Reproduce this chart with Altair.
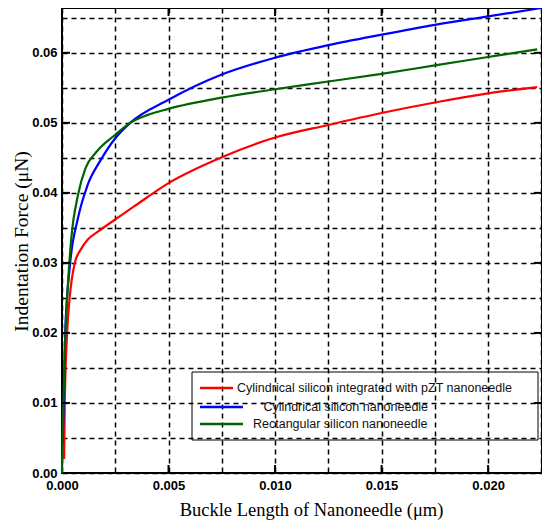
import altair as alt
import pandas as pd

series_names = [
    "Cylindrical silicon integrated with pZT nanoneedle",
    "Cylindrical silicon nanoneedle",
    "Rectangular silicon nanoneedle",
]
legend_labels = [
    "Cylindrical silicon integrated with pZT nanoneedle",
    "'Cylindrical silicon nanoneedle",
    "Rectangular silicon nanoneedle",
]
colors = ["#ff0000", "#0000ff", "#006400"]

# Buckle length (um) and indentation force (uN)
x_red = [0.0001, 0.00013, 0.00024, 0.00036, 0.0006, 0.0009, 0.0012, 0.0017, 0.0025,
         0.0034, 0.005, 0.0075, 0.010, 0.0125, 0.015, 0.0175, 0.020, 0.0223]
y_red = [0.002, 0.010, 0.020, 0.025, 0.030, 0.032, 0.0333, 0.0345, 0.0362,
         0.0381, 0.0414, 0.0451, 0.0479, 0.0497, 0.0514, 0.0529, 0.0542, 0.0551]

x_blue = [0.00003, 0.0001, 0.00015, 0.00036, 0.00075, 0.0012, 0.0018, 0.0025, 0.0032,
          0.005, 0.0075, 0.010, 0.0125, 0.015, 0.0175, 0.020, 0.0225]
y_blue = [0.004, 0.012, 0.020, 0.0293, 0.0364, 0.0411, 0.0446, 0.0478, 0.0500,
          0.0533, 0.0569, 0.0593, 0.0611, 0.0626, 0.0640, 0.0652, 0.0664]

x_green = [0.0, 0.00005, 0.00013, 0.00028, 0.00044, 0.00075, 0.0011, 0.0016, 0.0025,
           0.0032, 0.004, 0.005, 0.0075, 0.010, 0.0125, 0.015, 0.0175, 0.020, 0.0223]
y_green = [0.0, 0.008, 0.0174, 0.027, 0.0336, 0.0397, 0.0435, 0.0458, 0.0483,
           0.0500, 0.0511, 0.0520, 0.0536, 0.0548, 0.0559, 0.0570, 0.0582, 0.0594, 0.0605]

x_grid = [0.0, 0.0025, 0.005, 0.0075, 0.010, 0.0125, 0.015, 0.0175, 0.020, 0.0225]
y_grid = [0.0, 0.005, 0.010, 0.015, 0.020, 0.025, 0.030, 0.035, 0.040, 0.045,
          0.050, 0.055, 0.060, 0.065]
x_major = [0.005, 0.010, 0.015, 0.020]
y_major = [0.01, 0.02, 0.03, 0.04, 0.05, 0.06]

W, H = 480, 465
TICK = 8

rows = []
for name, xs, ys in zip(series_names, [x_red, x_blue, x_green], [y_red, y_blue, y_green]):
    for a, b in zip(xs, ys):
        rows.append({"series": name, "x": a, "y": b})
df = pd.DataFrame(rows)

x_enc = alt.X(
    "x:Q",
    scale=alt.Scale(domain=[0, 0.02253], nice=False, zero=False),
    axis=alt.Axis(
        values=x_grid,
        labelExpr="abs(datum.value*200 - round(datum.value*200)) < 1e-6 ? format(datum.value, '.3f') : ''",
        labelFlush=False,
        title="Buckle Length of Nanoneedle (\u03bcm)",
        titleX=249, titleY=42, titleAlign="center", titleBaseline="alphabetic",
        titleFont="Liberation Serif", titleFontSize=18.5, titleFontWeight="normal",
        labelPadding=6,
    ),
)
y_enc = alt.Y(
    "y:Q",
    scale=alt.Scale(domain=[0, 0.0664], nice=False, zero=False),
    axis=alt.Axis(
        values=y_grid,
        labelExpr="abs(datum.value*100 - round(datum.value*100)) < 1e-6 ? format(datum.value, '.2f') : ''",
        labelFlush=False,
        title="Indentation Force (\u03bcN)",
        titleX=-35, titleY=233, titleAngle=270, titleAlign="center", titleBaseline="alphabetic",
        titleFont="Liberation Serif", titleFontSize=19.5, titleFontWeight="normal",
        labelPadding=5,
    ),
)

lines = alt.Chart(df).mark_line(strokeWidth=2.2, interpolate="monotone").encode(
    x=x_enc,
    y=y_enc,
    color=alt.Color("series:N", scale=alt.Scale(domain=series_names, range=colors), legend=None),
)

xt = pd.DataFrame({"x": x_major})
yt = pd.DataFrame({"y": y_major})
tick_top = alt.Chart(xt).mark_rule(color="black", strokeWidth=2).encode(
    x=x_enc, y=alt.value(0), y2=alt.value(TICK))
tick_bot = alt.Chart(xt).mark_rule(color="black", strokeWidth=2).encode(
    x=x_enc, y=alt.value(H), y2=alt.value(H - TICK))
tick_left = alt.Chart(yt).mark_rule(color="black", strokeWidth=2).encode(
    y=y_enc, x=alt.value(0), x2=alt.value(TICK))
tick_right = alt.Chart(yt).mark_rule(color="black", strokeWidth=2).encode(
    y=y_enc, x=alt.value(W), x2=alt.value(W - TICK))

one = pd.DataFrame({"a": [0]})
legend_box = alt.Chart(one).mark_rect(fill="transparent", stroke="black", strokeWidth=1).encode(
    x=alt.value(130), x2=alt.value(476), y=alt.value(364), y2=alt.value(432))

legend_layers = []
line_x2 = [171, 181, 181]
text_x = [175, 199, 191]
row_y = [380, 399, 416]
for lab, col, lx2, tx, ry in zip(legend_labels, colors, line_x2, text_x, row_y):
    d = pd.DataFrame({"label": [lab]})
    legend_layers.append(
        alt.Chart(d).mark_rule(color=col, strokeWidth=2.5).encode(
            x=alt.value(138), x2=alt.value(lx2), y=alt.value(ry)))
    legend_layers.append(
        alt.Chart(d).mark_text(align="left", baseline="middle", font="Liberation Sans",
                               fontSize=12.5, color="#111111").encode(
            x=alt.value(tx), y=alt.value(ry), text="label:N"))

chart = alt.layer(
    lines, tick_top, tick_bot, tick_left, tick_right, legend_box, *legend_layers
).properties(
    width=W, height=H,
    autosize=alt.AutoSizeParams(type="none"),
    padding={"left": 54, "top": 0, "right": 0, "bottom": 50},
).configure_view(
    stroke="black", strokeWidth=2,
).configure_axis(
    domain=False, ticks=False,
    grid=True, gridColor="black", gridDash=[5, 4], gridWidth=1.5, gridOpacity=1,
    labelFont="Liberation Sans", labelFontSize=13, labelFontWeight="bold", labelColor="black",
    titleColor="black",
)

chart.save("out.html", embed_options={"renderer": "svg", "actions": False})
